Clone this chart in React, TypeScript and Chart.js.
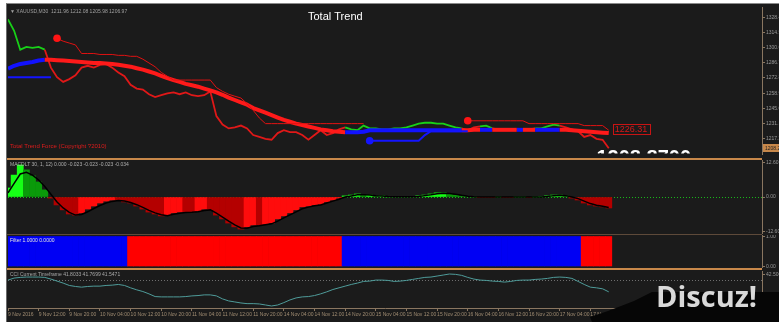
import React, { useEffect, useRef } from 'react';
import { Chart, registerables } from 'chart.js';

Chart.register(...registerables);

// ---------- data ----------
const SLOTS = 124; // bar slots on the time axis (data + empty right margin)
const LABEL_STEP = 5; // a time label every 5 bars

const timeLabels = [
  '9 Nov 2016', '9 Nov 12:00', '9 Nov 20:00', '10 Nov 04:00', '10 Nov 12:00', '10 Nov 20:00',
  '11 Nov 04:00', '11 Nov 12:00', '11 Nov 20:00', '14 Nov 04:00', '14 Nov 12:00', '14 Nov 20:00',
  '15 Nov 04:00', '15 Nov 12:00', '15 Nov 20:00', '16 Nov 04:00', '16 Nov 12:00', '16 Nov 20:00',
  '17 Nov 04:00', '17 Nov 12:00', '17 Nov 20:00',
];

const price = [
  1326.7, 1316.2, 1298.8, 1301.4, 1300.5, 1301.4, 1298.8,
  1282.3, 1273.5, 1269.2, 1271.8, 1275.3, 1282.3, 1284.0, 1282.3, 1284.9, 1285.7,
  1282.3, 1277.9, 1274.4, 1266.6, 1263.1, 1262.2, 1257.9, 1255.3, 1257.0, 1258.7,
  1259.6, 1257.9, 1259.6, 1257.0, 1256.1, 1257.0, 1260.5, 1237.8, 1230.0, 1226.5,
  1227.4, 1229.1, 1226.5, 1220.4, 1218.7, 1216.9, 1216.1, 1222.2, 1224.8, 1223.0,
  1223.0, 1220.4, 1216.1, 1220.4, 1224.8, 1220.4, 1222.2, 1225.6, 1227.4, 1225.6,
  1224.8, 1229.1, 1226.5, 1226.5, 1225.6, 1225.6, 1226.5, 1226.5, 1227.4, 1229.1,
  1230.9, 1231.7, 1231.7, 1230.9, 1230.9, 1229.1, 1227.4, 1226.5, 1224.8, 1227.4,
  1228.3, 1229.1, 1226.5, 1225.6, 1225.6, 1225.6, 1225.6, 1225.6, 1225.6, 1226.5,
  1226.5, 1228.3, 1230.0, 1229.1, 1227.4, 1225.6, 1223.9, 1218.7, 1220.4, 1216.9,
  1216.1, 1208.2,
];

const trendLine = [
  1281.4, 1284.0, 1285.7, 1286.6, 1287.5, 1288.8, 1289.6,
  1289.6, 1289.2, 1288.8, 1288.4, 1287.9, 1287.5, 1287.0, 1286.6, 1286.6, 1286.2,
  1285.7, 1284.9, 1284.0, 1283.2, 1281.8, 1280.5, 1278.8, 1277.0, 1274.8, 1272.7,
  1270.9, 1269.2, 1267.4, 1266.1, 1264.8, 1263.1, 1261.4, 1259.6, 1257.4, 1254.8,
  1252.6, 1250.5, 1248.3, 1245.2, 1243.0, 1240.9, 1238.7, 1236.5, 1234.3, 1232.6,
  1230.9, 1229.6, 1228.3, 1227.0, 1225.6, 1224.8, 1223.9, 1223.5, 1223.0, 1223.0,
  1223.0, 1223.5, 1224.8, 1224.8, 1224.8, 1224.8, 1224.8, 1224.8, 1224.8, 1224.8,
  1224.8, 1224.8, 1224.8, 1224.8, 1224.8, 1224.8, 1224.8, 1224.8, 1224.8, 1225.2,
  1225.2, 1225.2, 1225.2, 1225.2, 1225.2, 1225.2, 1225.2, 1225.2, 1225.2, 1225.2,
  1225.2, 1225.2, 1225.2, 1225.2, 1225.2, 1224.8, 1224.3, 1223.9, 1223.5, 1223.0,
  1222.6, 1222.2,
];

// 1 = up trend, -1 = down trend
const trend = [
  1, 1, 1, 1, 1, 1, 1,
  -1, -1, -1, -1, -1, -1, -1, -1, -1, -1,
  -1, -1, -1, -1, -1, -1, -1, -1, -1, -1,
  -1, -1, -1, -1, -1, -1, -1, -1, -1, -1,
  -1, -1, -1, -1, -1, -1, -1, -1, -1, -1,
  -1, -1, -1, -1, -1, -1, -1, -1, -1, 1,
  1, 1, 1, 1, 1, 1, 1, 1, 1, 1,
  1, 1, 1, 1, 1, 1, 1, 1, -1, -1,
  -1, 1, 1, -1, -1, -1, -1, 1, -1, -1,
  1, 1, 1, 1, -1, -1, -1, -1, -1, -1,
  -1, -1,
];

const upperStop = [
  null, null, null, null, null, null, null, null, 1309.3, 1306.6, 1304.9, 1303.2,
  1295.3, 1295.3, 1295.3, 1294.4, 1294.4, 1294.4, 1293.6, 1293.6, 1292.7, 1292.7,
  1290.1, 1286.6, 1283.1, 1277.9, 1274.4,
  1270.9, 1270.9, 1270.9, 1270.9, 1270.9, 1270.9, 1270.9,
  1264.0, 1260.5, 1257.9, 1256.1, 1254.4, 1249.2, 1243.1, 1236.1,
  1230.9, 1230.9, 1230.9, 1230.9, 1230.9, 1230.9, 1230.9, 1230.9, 1230.9,
  1230.9, 1230.9, 1230.9, 1230.9, 1230.9, 1230.9, 1230.9, 1230.9,
  null, null, null, null, null, null, null, null, null, null, null, null, null, null, null, null,
  1233.5, 1233.5, 1233.5, 1233.5, 1233.5, 1233.5, 1233.5, 1233.5, 1233.5, 1233.5,
  1230.9, 1230.9, 1230.9, 1230.9, 1230.9, 1230.9, 1230.9, 1230.9, 1230.9,
  1229.1, 1229.1, 1229.1, 1229.1,
  1224.8,
];

const lowerStop = [
  1273.5, 1273.5, 1273.5, 1273.5, 1273.5, 1273.5, 1273.5, 1273.5,
  null, null, null, null, null, null, null, null, null, null,
  null, null, null, null, null, null, null, null, null, null,
  null, null, null, null, null, null, null, null, null, null,
  null, null, null, null, null, null, null, null, null, null,
  null, null, null, null, null, null, null, null, null, null,
  null,
  1215.2, 1215.2, 1215.2, 1215.2, 1215.2, 1215.2, 1215.2, 1215.2, 1215.2,
  1220.4,
  1223.9, 1223.9, 1223.9, 1223.9, 1223.9, 1223.9, 1223.9,
  null, null, null, null, null, null, null, null, null, null, null, null,
  null, null, null, null, null, null, null, null, null, null, null,
];

const redDotIdx = [8, 75];
const blueDotIdx = [59];
const levelLabel = 1226.31;
const bigLabel = '1208.8700';
const bigLabelLevel = 1207.4;
const bigLabelIdx = 96;
const priceTicks = [1328.4, 1314.5, 1300.6, 1286.7, 1272.8, 1258.9, 1245.0, 1231.1, 1217.2];

const macdHist = [
  3.3, 8.0, 11.7, 9.9, 7.7, 5.5, 2.6,
  -0.4, -2.9, -4.7, -6.2, -6.6, -5.8, -4.4, -3.3, -2.2, -1.5,
  -1.1, -1.1, -1.8, -2.2, -3.3, -4.4, -5.5, -6.2, -6.9, -6.6,
  -5.8, -5.5, -5.5, -5.5, -5.1, -4.4, -4.7, -6.6, -8.0, -9.5,
  -10.9, -11.7, -10.9, -10.2, -10.2, -9.9, -9.5, -8.0, -6.9, -5.8,
  -4.7, -3.6, -3.3, -2.9, -2.6, -1.8, -1.1, -0.4, 0.4, 0.7,
  1.1, 0.7, 0.7, 0.4, 0.4, 0.0, 0.1, 0.1, 0.1, 0.1,
  0.4, 0.7, 1.1, 1.5, 1.5, 1.1, 0.7, 0.4, 0.1, 0.0,
  -0.1, -0.1, -0.1, 0.0, -0.1, -0.1, 0.0, 0.0, -0.1, 0.0,
  0.1, 0.4, 0.7, 0.7, 0.4, -0.4, -1.1, -2.2, -2.9, -3.3,
  -3.6, -4.0,
];

const macdSignal = [
  1.5, 5.0, 8.4, 9.0, 8.0, 6.2, 3.8,
  1.0, -1.8, -4.0, -5.6, -6.6, -6.4, -5.4, -4.2, -3.1, -2.2,
  -1.6, -1.3, -1.5, -2.0, -2.8, -3.8, -4.9, -5.8, -6.5, -6.8,
  -6.3, -5.9, -5.7, -5.6, -5.4, -4.9, -4.7, -5.9, -7.3, -8.8,
  -10.2, -11.3, -11.4, -10.8, -10.5, -10.1, -9.8, -8.8, -7.6, -6.5,
  -5.4, -4.3, -3.7, -3.2, -2.9, -2.2, -1.5, -0.8, 0.0, 0.4,
  0.8, 0.8, 0.7, 0.5, 0.4, 0.2, 0.1, 0.1, 0.1, 0.1,
  0.2, 0.5, 0.8, 1.2, 1.4, 1.3, 1.0, 0.6, 0.3, 0.1,
  0.0, 0.0, 0.0, 0.0, 0.0, 0.0, 0.0, 0.0, 0.0, 0.0,
  0.0, 0.2, 0.5, 0.6, 0.5, 0.0, -0.6, -1.5, -2.4, -3.0,
  -3.4, -3.8,
];
const macdTicks = [12.6, 0, -12.6];

// 1 = blue (up), -1 = red (down)
const filterState = [
  1, 1, 1, 1, 1, 1, 1, 1, 1, 1, 1, 1, 1, 1, 1, 1, 1, 1, 1, 1,
  -1, -1, -1, -1, -1, -1, -1, -1, -1, -1, -1, -1, -1, -1, -1, -1, -1, -1,
  -1, -1, -1, -1, -1, -1, -1, -1, -1, -1, -1, -1, -1, -1, -1, -1, -1,
  1, 1, 1, 1, 1, 1, 1, 1, 1, 1, 1, 1, 1, 1, 1, 1, 1, 1, 1, 1,
  1, 1, 1, 1, 1, 1, 1, 1, 1, 1, 1, 1, 1, 1, 1, 1, 1, 1, 1,
  -1, -1, -1, -1, -1,
];
const filterTicks = [1, 0];

const cci = [
  42.33, 42.39, 42.41, 42.42, 42.42, 42.42, 42.41,
  42.36, 42.30, 42.24, 42.17, 42.14, 42.12, 42.14, 42.15, 42.15, 42.17,
  42.18, 42.20, 42.17, 42.10, 42.04, 41.99, 41.92, 41.84, 41.83, 41.83,
  41.83, 41.83, 41.84, 41.86, 41.87, 41.89, 41.89, 41.86, 41.77, 41.71,
  41.68, 41.65, 41.63, 41.63, 41.62, 41.59, 41.56, 41.59, 41.66, 41.74,
  41.80, 41.83, 41.84, 41.87, 41.92, 41.98, 42.05, 42.10, 42.15, 42.20,
  42.24, 42.29, 42.30, 42.33, 42.33, 42.32, 42.29, 42.30, 42.32, 42.35,
  42.38, 42.41, 42.42, 42.45, 42.48, 42.51, 42.50, 42.47, 42.41, 42.36,
  42.33, 42.32, 42.30, 42.29, 42.27, 42.29, 42.32, 42.33, 42.33, 42.35,
  42.36, 42.38, 42.41, 42.42, 42.41, 42.38, 42.29, 42.20, 42.12, 42.10,
  42.07, 41.98,
];
const cciTicks = [42.5];
const cciLevel = 42.33;

const MAIN_INFO = '\u25BC XAUUSD,M30  1211.96 1212.08 1205.98 1206.97';
const MAIN_TITLE = 'Total Trend';
const COPYRIGHT = 'Total Trend Force (Copyright ?2010)';
const MACD_INFO = 'MACDLT 30, 1, 12) 0.000 -0.023 -0.023 -0.023 -0.034';
const FILTER_INFO = 'Filter 1.0000 0.0000';
const CCI_INFO = 'CCI Current Timeframe 41.8033 41.7699 41.5471';

// ---------- styles ----------
const W = 779;
const AXIS_W = 17;
const BG = '#1b1b1b';
const FRAME = '#8a7660';
const SEP = '#c8884a';
const FONT = 'Liberation Sans';

const pts = (arr: (number | null)[]) => arr.map((v, i) => ({ x: i, y: v }));

const xAxis = (display: boolean): any => ({
  type: 'linear',
  min: 0,
  max: SLOTS - 1,
  offset: false,
  display,
  grid: { display: true, drawOnChartArea: false, drawTicks: true, tickLength: 3, color: FRAME, offset: false },
  border: { display: true, color: FRAME },
  afterBuildTicks: (s: any) => {
    s.ticks = timeLabels.map((_, k) => ({ value: k * LABEL_STEP }));
  },
  afterFit: (s: any) => {
    s.height = display ? 14 : 0;
  },
  ticks: {
    autoSkip: false,
    maxRotation: 0,
    align: 'start',
    padding: 1,
    color: '#a08c72',
    font: { family: FONT, size: 5 },
    callback: (v: number) => timeLabels[Math.round(v / LABEL_STEP)] ?? '',
  },
});

const yAxis = (min: number, max: number, ticks: number[], digits: number): any => ({
  type: 'linear',
  position: 'right',
  min,
  max,
  afterFit: (s: any) => {
    s.width = AXIS_W;
    s.paddingTop = 0;
    s.paddingBottom = 0;
  },
  afterBuildTicks: (s: any) => {
    s.ticks = ticks.map((v) => ({ value: v }));
  },
  grid: { display: true, drawOnChartArea: false, drawTicks: true, tickLength: 3, color: FRAME },
  border: { display: true, color: FRAME },
  ticks: {
    autoSkip: false,
    padding: 1,
    color: '#9a9a9a',
    font: { family: FONT, size: 5 },
    callback: (v: number) => Number(v).toFixed(digits),
  },
});

const baseOptions = (top: number, bottom: number): any => ({
  responsive: false,
  maintainAspectRatio: false,
  animation: false,
  devicePixelRatio: 1,
  events: [],
  layout: { padding: { left: 8, right: 0, top, bottom } },
  plugins: { legend: { display: false }, tooltip: { enabled: false } },
  elements: { point: { radius: 0 } },
});

const textAt = (ctx: CanvasRenderingContext2D, text: string, x: number, y: number, color: string, font: string, base: CanvasTextBaseline = 'top') => {
  ctx.font = font;
  ctx.fillStyle = color;
  ctx.textBaseline = base;
  ctx.textAlign = 'left';
  ctx.fillText(text, x, y);
};

export default function App() {
  const mainRef = useRef<HTMLCanvasElement>(null);
  const macdRef = useRef<HTMLCanvasElement>(null);
  const filterRef = useRef<HTMLCanvasElement>(null);
  const cciRef = useRef<HTMLCanvasElement>(null);

  useEffect(() => {
    const charts: Chart[] = [];
    const last = price.length - 1;

    const mainPlugin = {
      id: 'mainDeco',
      afterDatasetsDraw(chart: any) {
        const { ctx, chartArea: a, scales } = chart;
        const x = scales.x;
        const y = scales.y;
        ctx.save();
        textAt(ctx, MAIN_INFO, a.left + 2, a.top + 2, '#a0a0a0', `5px "${FONT}"`);
        textAt(ctx, MAIN_TITLE, 308, a.top + 13, '#ffffff', `11px "${FONT}"`, 'alphabetic');
        textAt(ctx, COPYRIGHT, a.left + 2, a.bottom - 5, '#e01c1c', `6px "${FONT}"`, 'bottom');
        // level label box
        const lx = x.getPixelForValue(last) + 4;
        const ly = y.getPixelForValue(levelLabel);
        ctx.font = `9px "${FONT}"`;
        const lt = levelLabel.toFixed(2);
        const lw = ctx.measureText(lt).width;
        ctx.strokeStyle = '#c81414';
        ctx.lineWidth = 1;
        ctx.strokeRect(Math.round(lx) + 0.5, Math.round(ly - 5) + 0.5, Math.round(lw + 4), 10);
        textAt(ctx, lt, lx + 2, ly + 0.5, '#d81818', `9px "${FONT}"`, 'middle');
        // big clipped label
        ctx.save();
        ctx.beginPath();
        ctx.rect(a.left, a.top, a.right - a.left, a.bottom - a.top - 0.5);
        ctx.clip();
        textAt(ctx, bigLabel, x.getPixelForValue(bigLabelIdx), y.getPixelForValue(bigLabelLevel) + 14.5, '#ffffff', `bold 20px "${FONT}"`, 'alphabetic');
        ctx.restore();
        // current price tag
        const py = y.getPixelForValue(price[last]);
        ctx.fillStyle = SEP;
        ctx.fillRect(a.right + 1, Math.round(py - 4), AXIS_W, 8);
        textAt(ctx, price[last].toFixed(2), a.right + 3, py, '#202020', `5px "${FONT}"`, 'middle');
        ctx.restore();
      },
    };

    const macdPlugin = {
      id: 'macdDeco',
      beforeDatasetsDraw(chart: any) {
        const { ctx, chartArea: a, scales } = chart;
        const zy = Math.round(scales.y.getPixelForValue(0)) + 0.5;
        ctx.save();
        ctx.strokeStyle = '#18b818';
        ctx.lineWidth = 1;
        ctx.setLineDash([1, 2]);
        ctx.beginPath();
        ctx.moveTo(a.left, zy);
        ctx.lineTo(a.right, zy);
        ctx.stroke();
        ctx.restore();
      },
      afterDatasetsDraw(chart: any) {
        const { ctx, chartArea: a } = chart;
        ctx.save();
        textAt(ctx, MACD_INFO, a.left + 2, a.top + 2, '#b0b0b0', `5px "${FONT}"`);
        ctx.restore();
      },
    };

    const filterPlugin = {
      id: 'filterDeco',
      afterDatasetsDraw(chart: any) {
        const { ctx, chartArea: a } = chart;
        ctx.save();
        textAt(ctx, FILTER_INFO, a.left + 2, a.top + 3, '#e0e0e0', `5px "${FONT}"`);
        ctx.restore();
      },
    };

    const cciPlugin = {
      id: 'cciDeco',
      beforeDatasetsDraw(chart: any) {
        const { ctx, chartArea: a, scales } = chart;
        const ly = Math.round(scales.y.getPixelForValue(cciLevel)) + 0.5;
        ctx.save();
        ctx.strokeStyle = '#6e6e6e';
        ctx.lineWidth = 1;
        ctx.setLineDash([1, 2]);
        ctx.beginPath();
        ctx.moveTo(a.left, ly);
        ctx.lineTo(a.right, ly);
        ctx.stroke();
        ctx.restore();
      },
      afterDatasetsDraw(chart: any) {
        const { ctx, chartArea: a } = chart;
        ctx.save();
        textAt(ctx, CCI_INFO, a.left + 2, a.top + 1, '#a8a8a8', `5px "${FONT}"`);
        ctx.restore();
      },
    };

    if (mainRef.current) {
      charts.push(
        new Chart(mainRef.current, {
          type: 'line',
          data: {
            datasets: [
              {
                data: redDotIdx.map((i) => ({ x: i, y: upperStop[i] })),
                showLine: false,
                pointRadius: 3.8,
                pointBackgroundColor: '#ff1414',
                pointBorderWidth: 0,
                order: 0,
              } as any,
              {
                data: blueDotIdx.map((i) => ({ x: i, y: lowerStop[i] })),
                showLine: false,
                pointRadius: 3.8,
                pointBackgroundColor: '#1414ff',
                pointBorderWidth: 0,
                order: 0,
              },
              { data: pts(upperStop), borderColor: '#e01212', borderWidth: 1, pointRadius: 0, order: 1 },
              { data: pts(lowerStop), borderColor: '#1414ff', borderWidth: 2, pointRadius: 0, order: 1 },
              {
                data: pts(trendLine),
                borderColor: '#ff1a1a',
                borderWidth: 4,
                pointRadius: 0,
                borderJoinStyle: 'round',
                segment: { borderColor: (c: any) => (trend[c.p1DataIndex] > 0 ? '#1212ff' : '#ff1a1a') },
                order: 2,
              },
              {
                data: pts(price),
                borderColor: '#e01818',
                borderWidth: 1.8,
                pointRadius: 0,
                segment: { borderColor: (c: any) => (trend[c.p1DataIndex] > 0 ? '#18d018' : '#e01818') },
                order: 3,
              },
            ],
          },
          options: {
            ...baseOptions(0, 0),
            scales: { x: xAxis(false), y: yAxis(1203, 1338, priceTicks, 2) },
          },
          plugins: [mainPlugin],
        } as any)
      );
    }

    if (macdRef.current) {
      charts.push(
        new Chart(macdRef.current, {
          type: 'bar',
          data: {
            datasets: [
              {
                type: 'line',
                data: pts(macdSignal),
                borderColor: '#000000',
                borderWidth: 1.5,
                pointRadius: 0,
                order: 0,
              },
              {
                type: 'bar',
                data: pts(macdHist),
                barPercentage: 1,
                categoryPercentage: 1,
                borderWidth: 0,
                backgroundColor: (c: any) => {
                  const i = c.dataIndex;
                  const v = macdHist[i];
                  const p = i > 0 ? macdHist[i - 1] : v;
                  if (v >= 0) return v >= p ? '#16ff16' : '#0a9a0a';
                  return v <= p ? '#b40000' : '#ff0c0c';
                },
                order: 1,
              },
            ],
          },
          options: {
            ...baseOptions(0, 0),
            scales: { x: xAxis(false), y: yAxis(-13.5, 13.5, macdTicks, 2) },
          },
          plugins: [macdPlugin],
        } as any)
      );
    }

    if (filterRef.current) {
      charts.push(
        new Chart(filterRef.current, {
          type: 'bar',
          data: {
            datasets: [
              {
                data: filterState.map((_, i) => ({ x: i, y: 1 })),
                barPercentage: 1,
                categoryPercentage: 1,
                borderWidth: 0,
                backgroundColor: (c: any) => (filterState[c.dataIndex] > 0 ? '#0000f4' : '#ff0000'),
              },
            ],
          },
          options: {
            ...baseOptions(0, 0),
            scales: { x: xAxis(false), y: yAxis(-0.05, 1.05, filterTicks, 2) },
          },
          plugins: [filterPlugin],
        } as any)
      );
    }

    if (cciRef.current) {
      charts.push(
        new Chart(cciRef.current, {
          type: 'line',
          data: {
            datasets: [
              { data: pts(cci), borderColor: '#4f9c9a', borderWidth: 1, pointRadius: 0 },
            ],
          },
          options: {
            ...baseOptions(1, 0),
            scales: { x: xAxis(true), y: yAxis(41.5, 42.6, cciTicks, 4) },
          },
          plugins: [cciPlugin],
        } as any)
      );
    }

    return () => {
      charts.forEach((c) => c.destroy());
    };
  }, []);

  const canvasStyle = (top: number, h: number): React.CSSProperties => ({
    position: 'absolute',
    left: 0,
    top,
    width: W,
    height: h,
  });
  const sep = (top: number, h: number, color: string): React.CSSProperties => ({
    position: 'absolute',
    left: 7,
    top,
    width: W - AXIS_W - 7,
    height: h,
    background: color,
  });

  return (
    <div style={{ position: 'fixed', left: 0, top: 0, width: W, height: 322, background: '#ffffff', overflow: 'hidden' }}>
      <div
        style={{
          position: 'absolute',
          left: 6,
          top: 3,
          width: W - 6,
          height: 319,
          background: BG,
          boxSizing: 'border-box',
          borderLeft: '1px solid #6a6a6a',
          borderTop: '1px solid #8a8a8a',
        }}
      />
      <canvas ref={mainRef} width={W} height={155} style={canvasStyle(3, 155)} />
      <div style={sep(158, 2, SEP)} />
      <canvas ref={macdRef} width={W} height={74} style={canvasStyle(160, 74)} />
      <div style={sep(234, 1, '#5e4a3a')} />
      <canvas ref={filterRef} width={W} height={33} style={canvasStyle(235, 33)} />
      <div style={sep(268, 2, SEP)} />
      <canvas ref={cciRef} width={W} height={52} style={canvasStyle(270, 52)} />
      <div
        style={{
          position: 'absolute',
          left: 590,
          top: 292,
          width: 189,
          height: 30,
          background: '#060606',
          clipPath: 'polygon(62px 0, 189px 0, 189px 30px, 2px 30px, 0 25px, 18px 19px, 44px 9px)',
        }}
      />
      <span
        style={{
          position: 'absolute',
          left: 656,
          top: 281,
          fontFamily: '"Open Sans", sans-serif',
          fontWeight: 700,
          fontSize: 29,
          lineHeight: '29px',
          color: '#d9d9d9',
          whiteSpace: 'nowrap',
        }}
      >
        Discuz!
      </span>
    </div>
  );
}
